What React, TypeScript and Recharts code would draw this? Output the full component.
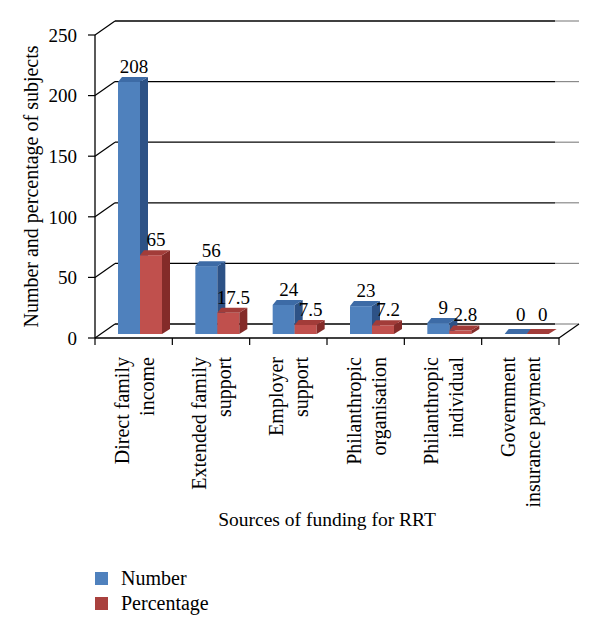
import { BarChart, Bar, XAxis, YAxis, CartesianGrid, Legend, LabelList } from 'recharts';

// funding sources, each tick label split in two lines like the original
const categoryLines: string[][] = [
  ['Direct family', 'income'],
  ['Extended family', 'support'],
  ['Employer', 'support'],
  ['Philanthropic', 'organisation'],
  ['Philanthropic', 'individual'],
  ['Government', 'insurance payment'],
];
const categories = categoryLines.map((l) => l.join(' '));
const numberValues = [208, 56, 24, 23, 9, 0];
const percentageValues = [65, 17.5, 7.5, 7.2, 2.8, 0];
const yTicks = [0, 50, 100, 150, 200, 250];

const data = categories.map((name, i) => ({
  name,
  lines: categoryLines[i],
  number: numberValues[i],
  percentage: percentageValues[i],
}));

const FONT = 'Liberation Serif, DejaVu Serif, serif';
const WIDTH = 600;
const HEIGHT = 635;
const PLOT_LEFT = 95;
const PLOT_RIGHT = 559;
const BAND = (PLOT_RIGHT - PLOT_LEFT) / categories.length;

// depth of the back wall and of the bars (oblique 3d look)
const WALL_DX = 20;
const WALL_DY = -14;
const BAR_DX = 6;
const BAR_DY = -4;

const blue = { front: '#4F81BD', side: '#2D5286', top: '#3D6BA6' };
const red = { front: '#C0504D', side: '#842B29', top: '#A23C39' };

const Box3D = (props: any) => {
  const { x, y, width, height, colors } = props;
  const fx = x + BAR_DX;
  const fy = y + BAR_DY;
  const h = Math.max(height || 0, 0);
  const w = width;
  return (
    <g>
      {h > 0 && <rect x={fx} y={fy} width={w} height={h} fill={colors.front} />}
      {h > 0 && (
        <polygon
          points={`${fx + w},${fy} ${fx + w + 8},${fy - 5} ${fx + w + 8},${fy + h - 5} ${fx + w},${fy + h}`}
          fill={colors.side}
        />
      )}
      <polygon
        points={`${fx},${fy} ${fx + w},${fy} ${fx + w + 8},${fy - 5} ${fx + 4},${fy - 5}`}
        fill={colors.top}
      />
    </g>
  );
};

const ValueLabel = (props: any) => {
  const { x, y, width, value } = props;
  return (
    <text
      x={x + BAR_DX + width / 2 + 5}
      y={Math.min(y - 13, 321)}
      textAnchor="middle"
      fontSize={19}
      style={{ fontFamily: FONT }}
      fill="#000"
    >
      {value}
    </text>
  );
};

const WallLine = (props: any) => {
  const { x1, x2, y1, index } = props;
  const by = y1 + WALL_DY;
  return (
    <g key={`wall-${index}`}>
      <line x1={x1} y1={y1} x2={x1 + WALL_DX} y2={by} stroke="#000" strokeWidth={1.2} />
      <line x1={x1 + WALL_DX} y1={by} x2={x2 - 4} y2={by} stroke="#000" strokeWidth={1.3} />
      <line x1={x2 - 4} y1={by} x2={x2 + WALL_DX} y2={by} stroke="#8a8a8a" strokeWidth={1.2} />
    </g>
  );
};

const CategoryTick = (props: any) => {
  const { x, y, index, payload, visibleTicksCount } = props;
  const lines = categoryLines[index] || [payload.value];
  const left = x - BAND / 2;
  const right = x + BAND / 2;
  const endY = y + 19;
  return (
    <g>
      <line x1={left} y1={y} x2={left} y2={y + 7} stroke="#000" strokeWidth={1.2} />
      {index === visibleTicksCount - 1 && (
        <g>
          <line x1={right} y1={y} x2={right} y2={y + 7} stroke="#000" strokeWidth={1.2} />
          <line x1={right} y1={y} x2={right + WALL_DX} y2={y + WALL_DY} stroke="#000" strokeWidth={1.2} />
        </g>
      )}
      <text
        transform={`rotate(-90, ${x}, ${endY})`}
        textAnchor="end"
        fontSize={20}
        style={{ fontFamily: FONT }}
        fill="#000"
      >
        {lines.map((line, i) => (
          <tspan key={i} x={x} y={endY - 5 + i * 25}>
            {line}
          </tspan>
        ))}
      </text>
    </g>
  );
};

const legendItems = [
  { label: 'Number', color: '#4F81BD' },
  { label: 'Percentage', color: '#A9413E' },
];

const renderLegend = () => (
  <div style={{ fontFamily: FONT, fontSize: 20, color: '#000' }}>
    {legendItems.map((item) => (
      <div key={item.label} style={{ display: 'flex', alignItems: 'center', height: 25 }}>
        <span
          style={{ display: 'inline-block', width: 13, height: 13, background: item.color, marginRight: 13 }}
        />
        <span>{item.label}</span>
      </div>
    ))}
  </div>
);

export default function App() {
  return (
    <div style={{ position: 'absolute', left: 0, top: 0, background: '#fff', fontFamily: FONT }}>
      <BarChart
        width={WIDTH}
        height={HEIGHT}
        data={data}
        margin={{ top: 35, right: WIDTH - PLOT_RIGHT, bottom: 107, left: 0 }}
        barSize={22}
        barGap={0}
        style={{ fontFamily: FONT }}
      >
        <CartesianGrid vertical={false} horizontal={(p: any) => <WallLine {...p} />} />
        <XAxis
          dataKey="name"
          height={190}
          interval={0}
          tickLine={false}
          tickSize={0}
          tickMargin={0}
          axisLine={{ stroke: '#000', strokeWidth: 1.3 }}
          tick={<CategoryTick />}
          label={{
            value: 'Sources of funding for RRT',
            position: 'insideBottom',
            offset: 2,
            fill: '#000',
            fontSize: 19.5,
            style: { fontFamily: FONT },
          }}
        />
        <YAxis
          width={PLOT_LEFT}
          domain={[0, 250]}
          ticks={yTicks}
          tickSize={7}
          tickMargin={11}
          stroke="#000"
          axisLine={{ stroke: '#000', strokeWidth: 1.3 }}
          tickLine={{ stroke: '#000', strokeWidth: 1.2 }}
          tick={{ fill: '#000', fontSize: 19, style: { fontFamily: FONT } }}
          label={{
            value: 'Number and percentage of subjects',
            angle: -90,
            position: 'insideLeft',
            offset: 31,
            fill: '#000',
            fontSize: 20,
            style: { textAnchor: 'middle', fontFamily: FONT },
          }}
        />
        <Legend
          layout="vertical"
          align="center"
          verticalAlign="middle"
          content={renderLegend}
          wrapperStyle={{ left: 95, top: 566, width: 200 }}
        />
        <Bar
          dataKey="number"
          name="Number"
          fill={blue.front}
          isAnimationActive={false}
          shape={(p: any) => <Box3D {...p} colors={blue} />}
        >
          <LabelList dataKey="number" content={<ValueLabel />} />
        </Bar>
        <Bar
          dataKey="percentage"
          name="Percentage"
          fill={red.front}
          isAnimationActive={false}
          shape={(p: any) => <Box3D {...p} colors={red} />}
        >
          <LabelList dataKey="percentage" content={<ValueLabel />} />
        </Bar>
      </BarChart>
    </div>
  );
}
